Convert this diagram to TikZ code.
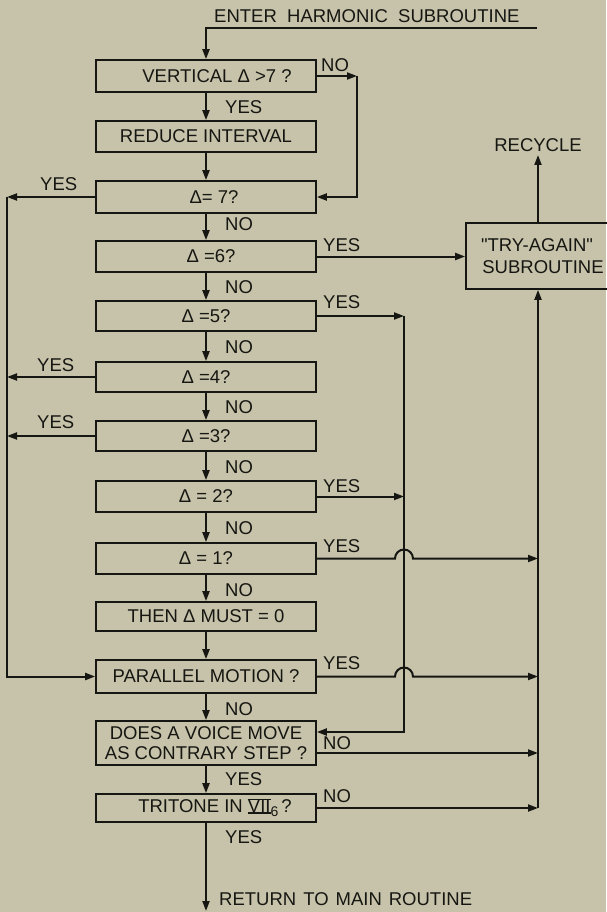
\documentclass[tikz,border=0pt]{standalone}
\usepackage{fontspec}
\setmainfont{Liberation Sans}
\newfontfamily\qf{Liberation Sans}
\usetikzlibrary{arrows.meta}
\definecolor{bg}{RGB}{199,195,170}
\definecolor{ink}{RGB}{22,22,18}
\newcommand\fs{\fontsize{18.5}{21}\selectfont}
\newcommand\barvii{\setbox0=\hbox{VII}\rlap{\rule[-1pt]{\wd0}{1.4pt}}\rlap{\rule[\dimexpr\ht0-0.4pt\relax]{\wd0}{1.4pt}}\box0}
\begin{document}
\begin{tikzpicture}[x=1pt,y=-1pt,
  box/.style={draw=ink, line width=1.7pt, minimum width=220pt, inner sep=0pt, font=\fs, text=ink, align=center},
  lbl/.style={anchor=west, inner sep=0pt, font=\fs, text=ink},
  conn/.style={draw=ink, line width=2pt},
  arr/.style={conn, -{Triangle[length=10pt,width=7pt]}}]
\fill[bg] (0,0) rectangle (606,912);
\useasboundingbox (0,0) rectangle (606,912);

% boxes
\node[box, minimum height=32pt] (b1) at (206,76) {\hspace*{22pt}VERTICAL Δ >7 ?};
\node[box, minimum height=31pt] (b2) at (206,136.5) {REDUCE INTERVAL};
\node[box, minimum height=32pt] (b3) at (206,197) {\hspace*{16pt}Δ= 7?};
\node[box, minimum height=31pt] (b4) at (206,256.5) {\hspace*{10pt}Δ =6?};
\node[box, minimum height=30pt] (b5) at (206,316) {Δ =5?};
\node[box, minimum height=30pt] (b6) at (206,377) {Δ =4?};
\node[box, minimum height=30pt] (b7) at (206,436) {Δ =3?};
\node[box, minimum height=31pt] (b8) at (206,496.5) {Δ = 2?};
\node[box, minimum height=31pt] (b9) at (206,558.5) {Δ = 1?};
\node[box, minimum height=29pt] (b10) at (206,616.5) {THEN Δ MUST = 0};
\node[box, minimum height=33pt] (b11) at (206,676.5) {PARALLEL MOTION ?};
\node[box, minimum height=44pt, font=\fontsize{18.5}{20}\selectfont] (b12) at (206,743) {DOES A VOICE MOVE\\AS CONTRARY STEP ?};
\node[box, minimum height=28pt] (b13) at (206,808) {\hspace*{18pt}TRITONE IN \barvii\raisebox{-4pt}{\fontsize{14}{14}\selectfont 6}\,?};
\node[box, minimum width=154pt, minimum height=66pt, font=\qf\fontsize{18.5}{22}\selectfont] (try) at (543,256) {"TRY-AGAIN"\hspace*{12pt}\\SUBROUTINE};

% texts
\node[lbl] (enter) at (214,16) {ENTER\ \ HARMONIC\ \ SUBROUTINE};
\node[lbl, anchor=center] (rec) at (538,145) {RECYCLE};
\node[lbl] (ret) at (219,899) {RETURN\hspace{7pt}TO\hspace{7pt}MAIN\hspace{7pt}ROUTINE};

% coordinates
\coordinate (entry) at (537,28);
\coordinate (c1) at (357,76);
\coordinate (L) at (7,197);
\coordinate (m5) at (404,316);
\coordinate (m12) at (404,732);
\coordinate (y753) at (0,753);
\coordinate (Rb) at (538,808);
\coordinate (rtip) at (538,155);
\coordinate (bot) at (206,911);

% main column
\draw[arr] (entry) -| (b1.north);
\draw[arr] (b1) -- (b2);
\draw[arr] (b2) -- (b3);
\draw[arr] (b3) -- (b4);
\draw[arr] (b4) -- (b5);
\draw[arr] (b5) -- (b6);
\draw[arr] (b6) -- (b7);
\draw[arr] (b7) -- (b8);
\draw[arr] (b8) -- (b9);
\draw[arr] (b9) -- (b10);
\draw[arr] (b10) -- (b11);
\draw[arr] (b11) -- (b12);
\draw[arr] (b12) -- (b13);
\draw[arr] (b13) -- (bot);

% NO bypass of reduce
\draw[arr] (b1.east) -- (c1);
\draw[arr] (c1) |- (b3.east);

% left YES bus
\draw[arr] (b3.west) -- (L);
\draw[arr] (b6.west) -- (b6.west -| L);
\draw[arr] (b7.west) -- (b7.west -| L);
\draw[arr] (L) |- (b11.west);

% Δ=6 to try-again
\draw[arr] (b4.east) -- (b4.east -| try.west);

% middle bus
\draw[arr] (b5.east) -- (m5);
\draw[arr] (b8.east) -- (b8.east -| m5);
\draw[arr] (m5) -- (m12) -- (b12.east |- m12);

% right bus
\draw[arr] (b9.east) -- (395,558.5) arc[start angle=180, end angle=0, radius=9pt] -- (b9.east -| Rb);
\draw[arr] (b11.east) -- (395,676.5) arc[start angle=180, end angle=0, radius=9pt] -- (b11.east -| Rb);
\draw[arr] (b12.east |- y753) -- (Rb |- y753);
\draw[arr] (b13.east) -- (Rb);
\draw[arr] (Rb) -- (Rb |- try.south);
\draw[arr] (Rb |- try.north) -- (rtip);

% labels
\node[lbl] (n1) at (321,65) {NO};
\node[lbl] (y1) at (225,107) {YES};
\node[lbl] (y3) at (40,184) {YES};
\node[lbl] (n3) at (225,224) {NO};
\node[lbl] (y4) at (323,245) {YES};
\node[lbl] (n4) at (225,287) {NO};
\node[lbl] (y5) at (323,302) {YES};
\node[lbl] (n5) at (225,347) {NO};
\node[lbl] (y6) at (37,365) {YES};
\node[lbl] (n6) at (225,407) {NO};
\node[lbl] (y7) at (37,422) {YES};
\node[lbl] (n7) at (225,467) {NO};
\node[lbl] (y8) at (323,486) {YES};
\node[lbl] (n8) at (225,528) {NO};
\node[lbl] (y9) at (323,546) {YES};
\node[lbl] (n9) at (225,590) {NO};
\node[lbl] (y11) at (323,663) {YES};
\node[lbl] (n11) at (225,709) {NO};
\node[lbl] (n12) at (323,743) {NO};
\node[lbl] (y12) at (225,779) {YES};
\node[lbl] (n13) at (323,796) {NO};
\node[lbl] (y13) at (225,837) {YES};
\end{tikzpicture}
\end{document}
